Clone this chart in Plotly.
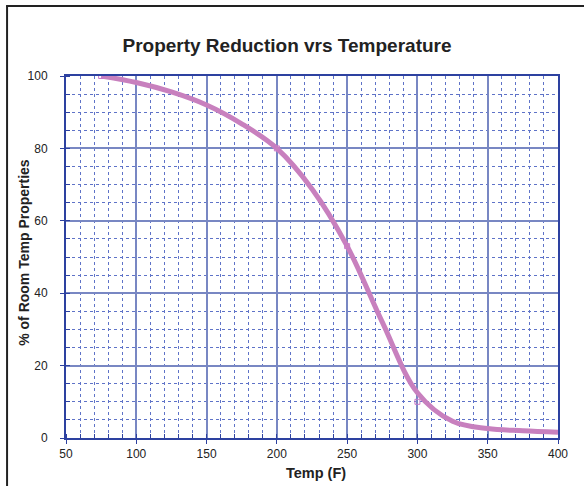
import plotly.graph_objects as go

# Data
curve_temp = [75, 100, 125, 150, 175, 200, 225, 250, 275, 300, 325, 350, 375, 400]
curve_pct = [100, 98.2, 95.6, 92.0, 86.8, 80, 68.8, 53, 32, 12.5, 4.6, 2.6, 2.0, 1.6]
marker_temp = [75, 200, 250, 300]
marker_pct = [100, 80, 53, 10]
x_ticks = [50, 100, 150, 200, 250, 300, 350, 400]
y_ticks = [0, 20, 40, 60, 80, 100]

fig = go.Figure()
fig.add_trace(go.Scatter(
    x=curve_temp, y=curve_pct, mode="lines",
    line=dict(color="rgb(200,128,190)", width=5, shape="spline", smoothing=1.0),
    showlegend=False, hoverinfo="skip"))
fig.add_trace(go.Scatter(
    x=marker_temp, y=marker_pct, mode="markers",
    marker=dict(symbol="square-open", size=5, color="rgb(200,120,200)", line=dict(width=1)),
    showlegend=False))

L, R, T, B = 66, 558.5, 76, 438.5
W, H = 584, 486
pw, ph = R - L, B - T

def px(xp):
    return (xp - L) / pw

def py(yp):
    return (B - yp) / ph

axis_common = dict(
    showline=True, linecolor="rgb(45,65,160)", linewidth=2, mirror=True,
    gridcolor="rgb(120,135,195)", gridwidth=1.5,
    ticks="outside", ticklen=4, tickcolor="rgb(45,65,160)",
    tickfont=dict(family="Liberation Sans, Arial", size=12, color="#222"),
    zeroline=False,
)

fig.update_xaxes(
    range=[50, 400], tickvals=x_ticks, ticktext=[str(v) for v in x_ticks],
    minor=dict(dtick=10, tick0=50, showgrid=True, griddash="dot",
               gridcolor="rgb(95,115,200)", gridwidth=1,
               ticks="inside", ticklen=4, tickcolor="rgb(45,65,160)"),
    ticklabelstandoff=0,
    **axis_common)
fig.update_yaxes(
    range=[0, 100], tickvals=y_ticks, ticktext=[str(v) for v in y_ticks],
    minor=dict(dtick=5, tick0=0, showgrid=True, griddash="dot",
               gridcolor="rgb(95,115,200)", gridwidth=1,
               ticks="inside", ticklen=4, tickcolor="rgb(45,65,160)"),
    ticklabelstandoff=10,
    **axis_common)

fig.update_layout(
    width=W, height=H,
    margin=dict(l=L, r=W - R, t=T, b=H - B, pad=0),
    paper_bgcolor="white", plot_bgcolor="white",
    title=dict(text="<b>Property Reduction vrs Temperature</b>",
               xref="container", yref="container",
               x=287 / W, y=1 - 45 / H, xanchor="center", yanchor="middle",
               font=dict(family="Liberation Sans, Arial", size=19, color="#222")),
    annotations=[
        dict(text="<b>% of Room Temp Properties</b>", textangle=-90,
             xref="paper", yref="paper", x=px(24), y=py(253),
             xanchor="center", yanchor="middle", showarrow=False,
             font=dict(family="Liberation Sans, Arial", size=14, color="#222")),
        dict(text="<b>Temp (F)</b>",
             xref="paper", yref="paper", x=px(316), y=py(474),
             xanchor="center", yanchor="middle", showarrow=False,
             font=dict(family="Liberation Sans, Arial", size=14.5, color="#222")),
    ],
    shapes=[
        dict(type="line", xref="paper", yref="paper",
             x0=px(7), x1=px(7), y0=py(6), y1=py(500),
             line=dict(color="#222", width=2)),
        dict(type="line", xref="paper", yref="paper",
             x0=px(6), x1=px(600), y0=py(6), y1=py(6),
             line=dict(color="#222", width=2)),
    ],
)

fig.write_html("out.html", config={"displayModeBar": False},
               post_script="document.body.style.margin='0';document.body.style.overflow='hidden';")
